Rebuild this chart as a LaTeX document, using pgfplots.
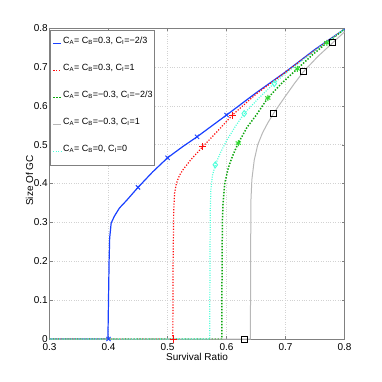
\documentclass[border=0pt]{standalone}
\usepackage{pgfplots}
\pgfplotsset{compat=1.18}
\usepackage{fontspec}
\setmainfont{Liberation Sans}

\definecolor{mblue}{rgb}{0.1,0.25,1}
\definecolor{mred}{rgb}{1,0.05,0.05}
\definecolor{mcyan}{rgb}{0.3,1,0.85}
\definecolor{mgreen}{rgb}{0.05,0.65,0.05}
\definecolor{mgreenmk}{rgb}{0.2,0.85,0.2}
\definecolor{mgray}{rgb}{0.72,0.72,0.72}

\begin{document}
\begin{tikzpicture}
\begin{axis}[
    width=295pt, height=311pt, scale only axis,
    xmin=0.3, xmax=0.8, ymin=0, ymax=0.8,
    xtick={0.3,0.4,0.5,0.6,0.7,0.8},
    ytick={0,0.1,0.2,0.3,0.4,0.5,0.6,0.7,0.8},
    /pgf/number format/assume math mode=true,
    tick label style={font=\fontsize{10}{12}\selectfont},
    xticklabel style={inner sep=0pt, yshift=-4pt},
    yticklabel style={inner sep=0pt, xshift=-1.5pt},
    tick align=inside, major tick length=3pt,
    axis line style={gray}, tick style={gray},
    grid=major, grid style={dotted, gray!35},
    xlabel={Survival Ratio},
    ylabel={Size Of GC},
    label style={font=\fontsize{10}{12}\selectfont},
    x label style={at={(axis description cs:0.5,-0.045)}, anchor=north, inner sep=0pt},
    y label style={at={(axis description cs:-0.0559,0.51)}, rotate=0, anchor=base, inner sep=0pt},
    legend style={at={(axis description cs:0.003,0.994)}, anchor=north west,
        draw=gray, inner xsep=2pt, inner ysep=6.3pt, row sep=12.9pt, column sep=1.7pt,
        nodes={inner sep=0pt, text height=7pt, text depth=7.2pt},
        font=\fontsize{9}{11}\selectfont},
    legend cell align=left,
    legend image code/.code={\draw[#1] (0pt,0pt) -- (7.3pt,0pt);},
]
% C_A = C_B = 0.3, C_I = -2/3
\addplot[mblue, line width=1.2pt] coordinates {
 (0.3,0) (0.399,0) (0.4,0.1) (0.401,0.2) (0.402,0.26) (0.4045,0.298)
 (0.41,0.316) (0.4186,0.337) (0.431,0.357) (0.45,0.39) (0.475,0.43)
 (0.5,0.466) (0.525,0.494) (0.55,0.52) (0.575,0.548) (0.6,0.576)
 (0.65,0.633) (0.7,0.687) (0.75,0.745) (0.8,0.797)
};
\addlegendentry{C\textsubscript{A}= C\textsubscript{B}=0.3, C\textsubscript{I}=−2/3}
% C_A = C_B = 0.3, C_I = 1
\addplot[mred, line width=1.2pt, dash pattern=on 1.2pt off 1.6pt] coordinates {
 (0.3,0) (0.509,0) (0.5095,0.2) (0.5105,0.33) (0.512,0.375) (0.515,0.40)
 (0.52,0.42) (0.526,0.435) (0.54,0.462) (0.56,0.495) (0.585,0.535)
 (0.61,0.576) (0.65,0.63) (0.7,0.686) (0.75,0.743) (0.8,0.797)
};
\addlegendentry{C\textsubscript{A}= C\textsubscript{B}=0.3, C\textsubscript{I}=1}
% C_A = C_B = -0.3, C_I = -2/3
\addplot[mgreen, line width=1.5pt, dash pattern=on 1.4pt off 1.6pt] coordinates {
 (0.3,0) (0.592,0) (0.5925,0.2) (0.593,0.3) (0.594,0.345) (0.597,0.40)
 (0.603,0.44) (0.61,0.47) (0.62,0.504) (0.635,0.545) (0.65,0.575)
 (0.67,0.62) (0.695,0.66) (0.72,0.695) (0.745,0.73) (0.77,0.762) (0.8,0.797)
};
\addlegendentry{C\textsubscript{A}= C\textsubscript{B}=−0.3, C\textsubscript{I}=−2/3}
% C_A = C_B = -0.3, C_I = 1
\addplot[mgray, line width=1pt] coordinates {
 (0.3,0) (0.6405,0) (0.641,0.25) (0.6415,0.36) (0.643,0.41) (0.647,0.46)
 (0.653,0.5) (0.661,0.53) (0.67,0.556) (0.68,0.581) (0.7,0.625)
 (0.715,0.657) (0.73,0.687) (0.755,0.727) (0.78,0.762) (0.8,0.79)
};
\addlegendentry{C\textsubscript{A}= C\textsubscript{B}=−0.3, C\textsubscript{I}=1}
% C_A = C_B = 0, C_I = 0
\addplot[mcyan, line width=1.2pt, dash pattern=on 1pt off 1.4pt] coordinates {
 (0.3,0) (0.5715,0) (0.572,0.2) (0.5725,0.33) (0.5735,0.385) (0.576,0.42)
 (0.581,0.448) (0.59,0.48) (0.6,0.51) (0.615,0.547) (0.63,0.58)
 (0.655,0.62) (0.68,0.657) (0.7,0.683) (0.75,0.742) (0.8,0.797)
};
\addlegendentry{C\textsubscript{A}= C\textsubscript{B}=0, C\textsubscript{I}=0}

% markers
\addplot[only marks, mark=x, mark size=3pt, mblue, line width=0.9pt, forget plot] coordinates {
 (0.4,0) (0.45,0.39) (0.5,0.466) (0.55,0.52) (0.6,0.576)};
\addplot[only marks, mark=+, mark size=3.5pt, mred, line width=1pt, forget plot] coordinates {
 (0.51,0) (0.56,0.495) (0.61,0.576)};
\addplot[only marks, mark=diamond, mark size=3pt, mcyan, line width=0.9pt, forget plot] coordinates {
 (0.581,0.448) (0.63,0.58) (0.681,0.657)};
\addplot[only marks, mark=asterisk, mark size=3pt, mgreenmk, line width=1pt, forget plot] coordinates {
 (0.62,0.504) (0.67,0.62) (0.72,0.695) (0.77,0.762)};
\addplot[only marks, mark=square, mark size=3pt, black, line width=0.9pt, forget plot] coordinates {
 (0.63,0) (0.68,0.581) (0.73,0.687) (0.78,0.762)};

\coordinate (sw) at (rel axis cs:0,0);
\coordinate (ne) at (rel axis cs:1,1);
\end{axis}
\pgfresetboundingbox
\path[use as bounding box] ([xshift=-49.5pt,yshift=-43pt]sw) rectangle ([xshift=37pt,yshift=28pt]ne);
\end{tikzpicture}
\end{document}
